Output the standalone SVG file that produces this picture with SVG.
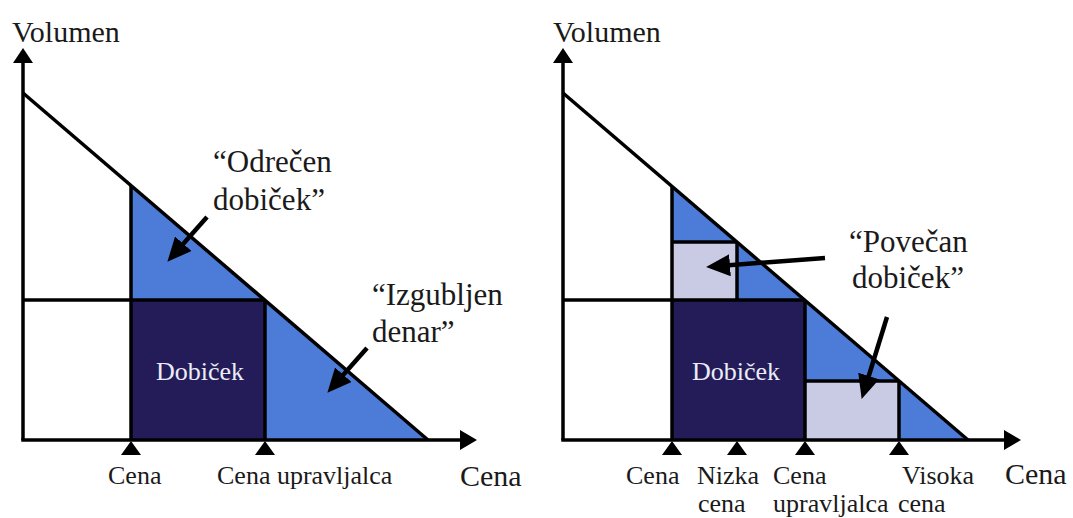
<svg xmlns="http://www.w3.org/2000/svg" width="1073" height="518" viewBox="0 0 1073 518">
<style>
.t{font-family:'Liberation Serif','Times New Roman',Times,serif;fill:#1a1a1a}
.big{font-size:30px}
.q{font-size:31px}
.lbl{font-size:26px}
.wt{font-family:'Liberation Serif','Times New Roman',Times,serif;font-size:26px;fill:#ececf6}
.ln{stroke:#000;stroke-width:3.5;fill:none}
.blue{fill:#4d7cd8}
.navy{fill:#231c58}
.lav{fill:#c9cbe4}
.arr{stroke:#000;stroke-width:4.5;fill:none;marker-end:url(#ah)}
</style>
<defs>
<marker id="ah" markerUnits="userSpaceOnUse" markerWidth="24" markerHeight="22" refX="11" refY="11" orient="auto">
<path d="M0,0 L24,11 L0,22 z" fill="#000"/>
</marker>
<path id="tick" d="M0,0 L10,14 L-10,14 z" fill="#000"/>
</defs>
<rect width="1073" height="518" fill="#fff"/>

<!-- LEFT CHART -->
<g id="left-areas">
<polygon class="blue" points="131,185.5 428,440 131,440"/>
<rect class="navy" x="131" y="300" width="134" height="140"/>
</g>
<g id="left-axes">
<line class="ln" x1="23" y1="62" x2="23" y2="440"/>
<polygon points="23,48 33,63 13,63" fill="#000"/>
<line class="ln" x1="21.25" y1="440" x2="461" y2="440"/>
<polygon points="477,440 460,430 460,450" fill="#000"/>
<line class="ln" x1="23" y1="93" x2="428" y2="440"/>
<line class="ln" x1="131" y1="185.5" x2="131" y2="440"/>
<line class="ln" x1="23" y1="300" x2="265" y2="300"/>
<line class="ln" x1="265" y1="300" x2="265" y2="440"/>
<use href="#tick" x="131" y="441"/>
<use href="#tick" x="265" y="441"/>
</g>
<g id="left-labels">
<text class="t big" x="12" y="42">Volumen</text>
<text class="t big" x="460" y="486">Cena</text>
<text class="t lbl" x="108" y="484">Cena</text>
<text class="t lbl" x="217" y="484">Cena upravljalca</text>
<text class="wt" x="156" y="380">Dobiček</text>
<text class="t q" x="213" y="172">“Odrečen</text>
<text class="t q" x="213" y="210">dobiček”</text>
<text class="t q" x="372" y="305">“Izgubljen</text>
<text class="t q" x="372" y="342">denar”</text>
</g>

<!-- RIGHT CHART -->
<g id="right-areas">
<polygon class="blue" points="672,186.4 968,440 672,440"/>
<rect class="navy" x="672" y="300" width="133" height="140"/>
<rect class="lav" x="672" y="242" width="65" height="58"/>
<rect class="lav" x="805" y="381" width="94" height="59"/>
</g>
<g id="right-axes">
<line class="ln" x1="563" y1="62" x2="563" y2="440"/>
<polygon points="563,48 573,63 553,63" fill="#000"/>
<line class="ln" x1="561.25" y1="440" x2="1005" y2="440"/>
<polygon points="1021,440 1004,430 1004,450" fill="#000"/>
<line class="ln" x1="563" y1="93" x2="968" y2="440"/>
<line class="ln" x1="672" y1="186.4" x2="672" y2="440"/>
<line class="ln" x1="563" y1="300" x2="805" y2="300"/>
<line class="ln" x1="805" y1="300" x2="805" y2="440"/>
<line class="ln" x1="672" y1="242" x2="737" y2="242"/>
<line class="ln" x1="737" y1="242" x2="737" y2="300"/>
<line class="ln" x1="805" y1="381" x2="899" y2="381"/>
<line class="ln" x1="899" y1="381" x2="899" y2="440"/>
<use href="#tick" x="672" y="441"/>
<use href="#tick" x="737" y="441"/>
<use href="#tick" x="805" y="441"/>
<use href="#tick" x="899" y="441"/>
</g>
<g id="right-labels">
<text class="t big" x="553" y="42">Volumen</text>
<text class="t big" x="1005" y="484">Cena</text>
<text class="t lbl" x="626" y="484">Cena</text>
<text class="t lbl" x="697" y="484">Nizka</text>
<text class="t lbl" x="698" y="512">cena</text>
<text class="t lbl" x="773" y="484">Cena</text>
<text class="t lbl" x="773" y="512">upravljalca</text>
<text class="t lbl" x="902" y="484">Visoka</text>
<text class="t lbl" x="898" y="512">cena</text>
<text class="wt" x="692" y="380">Dobiček</text>
<text class="t q" x="849" y="252">“Povečan</text>
<text class="t q" x="852" y="288">dobiček”</text>
</g>

<g id="connectors">
<line class="arr" x1="207" y1="217" x2="176" y2="252"/>
<line class="arr" x1="367" y1="348" x2="336" y2="383"/>
<line class="arr" x1="825" y1="258" x2="719" y2="266"/>
<line class="arr" x1="887" y1="317" x2="865.5" y2="386.5"/>
</g>
</svg>
